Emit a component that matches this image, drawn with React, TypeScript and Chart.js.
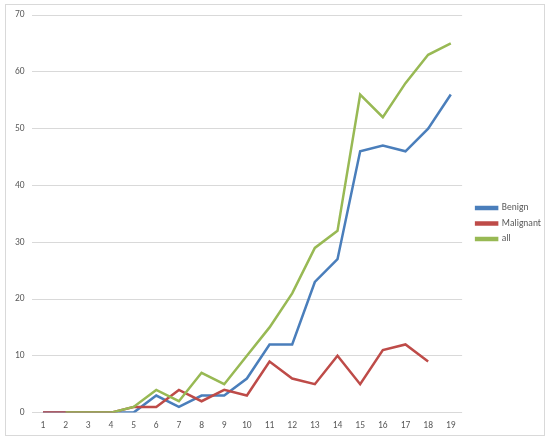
import React, { useEffect, useRef } from "react";
import { Chart, registerables } from "chart.js";

Chart.register(...registerables);

const categories = ["1","2","3","4","5","6","7","8","9","10","11","12","13","14","15","16","17","18","19"];
const benign = [0, 0, 0, 0, 0, 3, 1, 3, 3, 6, 12, 12, 23, 27, 46, 47, 46, 50, 56];
const malignant = [0, 0, 0, 0, 1, 1, 4, 2, 4, 3, 9, 6, 5, 10, 5, 11, 12, 9, null];
const all = [null, 0, 0, 0, 1, 4, 2, 7, 5, 10, 15, 21, 29, 32, 56, 52, 58, 63, 65];
const yTicks = [0, 10, 20, 30, 40, 50, 60, 70];

export default function App() {
  const ref = useRef<HTMLCanvasElement>(null);
  useEffect(() => {
    if (!ref.current) return;
    const family = "Carlito, Lato, 'Open Sans', sans-serif";
    const tickFont = { family, size: 9.5 };
    const legendFont = { family, size: 9.5 };
    const legendShift = {
      id: "legendShift",
      afterLayout(chart: any) {
        const lg = chart.legend;
        if (!lg) return;
        lg.left += 8;
        lg.right += 8;
        lg.top += 1;
        lg.bottom += 1;
      },
    };
    const chart = new Chart(ref.current, {
      type: "line",
      data: {
        labels: categories,
        datasets: [
          { label: "Benign", data: benign, borderColor: "#4a7ebb", backgroundColor: "#4a7ebb", borderWidth: 2.5, pointRadius: 0, tension: 0, order: 3 },
          { label: "Malignant", data: malignant, borderColor: "#be4b48", backgroundColor: "#be4b48", borderWidth: 2.5, pointRadius: 0, tension: 0, order: 2 },
          { label: "all", data: all, borderColor: "#98b954", backgroundColor: "#98b954", borderWidth: 2.5, pointRadius: 0, tension: 0, order: 1 },
        ],
      },
      plugins: [legendShift],
      options: {
        animation: false,
        responsive: false,
        devicePixelRatio: 1,
        layout: { padding: { left: 8, top: 15, right: 7, bottom: 10 } },
        plugins: {
          legend: {
            position: "right",
            labels: {
              boxWidth: 21,
              boxHeight: 2,
              padding: 6,
              color: "#595959",
              font: legendFont,
              sort: (a: any, b: any) => a.datasetIndex - b.datasetIndex,
            },
          },
          tooltip: { enabled: false },
        },
        scales: {
          x: {
            offset: true,
            grid: { display: false },
            border: { display: false },
            ticks: { color: "#595959", font: tickFont, maxRotation: 0, autoSkip: false, padding: -1 },
          },
          y: {
            min: 0,
            max: 70,
            afterBuildTicks: (s: any) => { s.ticks = yTicks.map((v) => ({ value: v })); },
            grid: { color: "#d9d9d9", drawTicks: false },
            border: { display: false },
            ticks: { color: "#595959", font: tickFont, padding: 7 },
          },
        },
      },
    });
    return () => chart.destroy();
  }, []);
  return (
    <div style={{ position: "fixed", left: 0, top: 0, width: 550, height: 440, background: "#fff" }}>
      <div style={{ position: "absolute", left: 5, top: 4, width: 540, height: 432, border: "1px solid #d9d9d9", boxSizing: "border-box" }} />
      <canvas ref={ref} width={550} height={440} style={{ position: "absolute", left: 0, top: 0 }} />
    </div>
  );
}
